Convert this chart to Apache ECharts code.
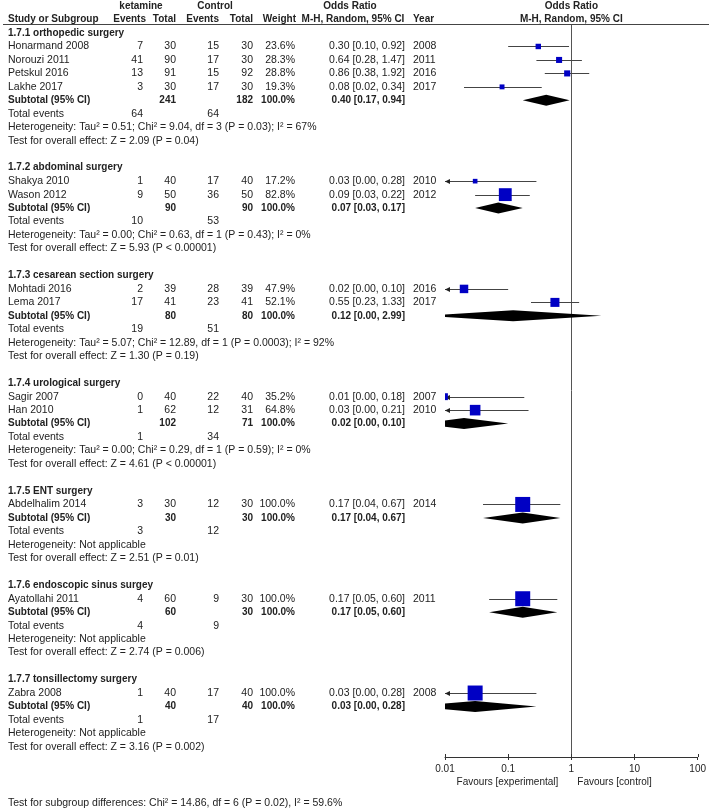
<!DOCTYPE html>
<html><head><meta charset="utf-8">
<script src="https://cdn.jsdelivr.net/npm/echarts@6/dist/echarts.min.js"></script>
<style>html,body{margin:0;padding:0;background:#fff}#c{width:709px;height:809px}</style>
</head><body><div id="c"></div>
<script>
// ---------- data ----------
const groupNames = ['1.7.1 orthopedic surgery','1.7.2 abdominal surgery','1.7.3 cesarean section surgery','1.7.4 urological surgery','1.7.5 ENT surgery','1.7.6 endoscopic sinus surgey','1.7.7 tonsillectomy surgery'];
const studyNames = ['Honarmand 2008','Norouzi 2011','Petskul 2016','Lakhe 2017','Shakya 2010','Wason 2012','Mohtadi 2016','Lema 2017','Sagir 2007','Han 2010','Abdelhalim 2014','Ayatollahi 2011','Zabra 2008'];
const studyGroup = [0,0,0,0,1,1,2,2,3,3,4,5,6];
const ketEvents = [7,41,13,3,1,9,2,17,0,1,3,4,1];
const ketTotals = [30,90,91,30,40,50,39,41,40,62,30,60,40];
const ctlEvents = [15,17,15,17,17,36,28,23,22,12,12,9,17];
const ctlTotals = [30,30,92,30,40,50,39,41,40,31,30,30,40];
const weights = [23.6,28.3,28.8,19.3,17.2,82.8,47.9,52.1,35.2,64.8,100,100,100];
const oddsRatio = [0.30,0.64,0.86,0.08,0.03,0.09,0.02,0.55,0.0098,0.03,0.17,0.17,0.03];
const ciLower = [0.10,0.28,0.38,0.02,0.003,0.03,0.004,0.23,0.0005,0.004,0.04,0.05,0.003];
const ciUpper = [0.92,1.47,1.92,0.34,0.28,0.22,0.10,1.33,0.18,0.21,0.67,0.60,0.28];
const years = [2008,2011,2016,2017,2010,2012,2016,2017,2007,2010,2014,2011,2008];
const subKetTotals = [241,90,80,102,30,60,40];
const subCtlTotals = [182,90,80,71,30,30,40];
const subOR = [0.40,0.07,0.12,0.02,0.17,0.17,0.03];
const subLower = [0.17,0.03,0.0048,0.004,0.04,0.05,0.003];
const subUpper = [0.94,0.17,2.99,0.10,0.67,0.60,0.28];
const subKetEvents = [64,10,19,1,3,4,1];
const subCtlEvents = [64,53,51,34,12,9,17];
const heterogeneity = [
 'Heterogeneity: Tau² = 0.51; Chi² = 9.04, df = 3 (P = 0.03); I² = 67%',
 'Heterogeneity: Tau² = 0.00; Chi² = 0.63, df = 1 (P = 0.43); I² = 0%',
 'Heterogeneity: Tau² = 5.07; Chi² = 12.89, df = 1 (P = 0.0003); I² = 92%',
 'Heterogeneity: Tau² = 0.00; Chi² = 0.29, df = 1 (P = 0.59); I² = 0%',
 'Heterogeneity: Not applicable',
 'Heterogeneity: Not applicable',
 'Heterogeneity: Not applicable'];
const overallEffect = [
 'Test for overall effect: Z = 2.09 (P = 0.04)',
 'Test for overall effect: Z = 5.93 (P < 0.00001)',
 'Test for overall effect: Z = 1.30 (P = 0.19)',
 'Test for overall effect: Z = 4.61 (P < 0.00001)',
 'Test for overall effect: Z = 2.51 (P = 0.01)',
 'Test for overall effect: Z = 2.74 (P = 0.006)',
 'Test for overall effect: Z = 3.16 (P = 0.002)'];
const subgroupTest = 'Test for subgroup differences: Chi² = 14.86, df = 6 (P = 0.02), I² = 59.6%';
const axisTicks = [0.01, 0.1, 1, 10, 100];
const favourLabels = ['Favours [experimental]', 'Favours [control]'];
const headerTop = ['ketamine', 'Control', 'Odds Ratio', 'Odds Ratio'];
const headerCols = ['Study or Subgroup', 'Events', 'Total', 'Events', 'Total', 'Weight', 'M-H, Random, 95% CI', 'Year', 'M-H, Random, 95% CI'];

// ---------- layout ----------
const rows = [];
rows.push({t:'h1', r:-2});
rows.push({t:'h2', r:-1});
let r = 0;
groupNames.forEach((g, gi) => {
  rows.push({t:'group', gi, r:r++});
  studyNames.forEach((s, si) => { if (studyGroup[si] === gi) rows.push({t:'study', si, r:r++}); });
  rows.push({t:'sub', gi, r:r++});
  rows.push({t:'events', gi, r:r++});
  rows.push({t:'het', gi, r:r++});
  rows.push({t:'test', gi, r:r++});
  r++;
});
rows.push({t:'favour', r:55.65});
rows.push({t:'footer', r:57.2});

const ROW_TOP = -0.668, ROW_BOTTOM = 53.75;
const FF = '"Liberation Sans", Arial, sans-serif';
const COL = '#222';
const REG = '10.5px ' + FF, BOLD = 'bold 10px ' + FF;
const X = {name:8, kEv:143, kTot:176, cEv:219, cTot:253, w:295, or:405, year:413};
const HX = {kEv:146, kTot:176, cEv:219, cTot:253, w:296, ciL:353};

function txt(x, y, text, align, font) {
  return {type:'text', x:x, y:y, style:{text:String(text), font:font || REG, fill:COL, align:align || 'left', verticalAlign:'middle'}};
}
const f2 = v => v.toFixed(2);
const ciText = (o, l, h) => f2(o) + ' [' + f2(l) + ', ' + f2(h) + ']';

function renderTable(params, api) {
  const row = rows[params.dataIndex];
  const y = api.coord([1, row.r])[1];
  const xOne = api.coord([1, row.r])[0];
  const c = [];
  if (row.t === 'h1') {
    c.push(txt(141, y, headerTop[0], 'center', BOLD));
    c.push(txt(215, y, headerTop[1], 'center', BOLD));
    c.push(txt(350, y, headerTop[2], 'center', BOLD));
    c.push(txt(xOne, y, headerTop[3], 'center', BOLD));
  } else if (row.t === 'h2') {
    c.push(txt(X.name, y, headerCols[0], 'left', BOLD));
    c.push(txt(HX.kEv, y, headerCols[1], 'right', BOLD));
    c.push(txt(HX.kTot, y, headerCols[2], 'right', BOLD));
    c.push(txt(HX.cEv, y, headerCols[3], 'right', BOLD));
    c.push(txt(HX.cTot, y, headerCols[4], 'right', BOLD));
    c.push(txt(HX.w, y, headerCols[5], 'right', BOLD));
    c.push(txt(HX.ciL, y, headerCols[6], 'center', BOLD));
    c.push(txt(X.year, y, headerCols[7], 'left', BOLD));
    c.push(txt(xOne, y, headerCols[8], 'center', BOLD));
    const ly = Math.round(api.coord([1, ROW_TOP])[1]) + 0.5;
    c.push({type:'line', shape:{x1:3, y1:ly, x2:709, y2:ly}, style:{stroke:'#444', lineWidth:1}});
  } else if (row.t === 'group') {
    c.push(txt(X.name, y, groupNames[row.gi], 'left', BOLD));
  } else if (row.t === 'study') {
    const i = row.si;
    c.push(txt(X.name, y, studyNames[i]));
    c.push(txt(X.kEv, y, ketEvents[i], 'right'));
    c.push(txt(X.kTot, y, ketTotals[i], 'right'));
    c.push(txt(X.cEv, y, ctlEvents[i], 'right'));
    c.push(txt(X.cTot, y, ctlTotals[i], 'right'));
    c.push(txt(X.w, y, weights[i].toFixed(1) + '%', 'right'));
    c.push(txt(X.or, y, ciText(oddsRatio[i], ciLower[i], ciUpper[i]), 'right'));
    c.push(txt(X.year, y, years[i]));
  } else if (row.t === 'sub') {
    const g = row.gi;
    c.push(txt(X.name, y, 'Subtotal (95% CI)', 'left', BOLD));
    c.push(txt(X.kTot, y, subKetTotals[g], 'right', BOLD));
    c.push(txt(X.cTot, y, subCtlTotals[g], 'right', BOLD));
    c.push(txt(X.w, y, '100.0%', 'right', BOLD));
    c.push(txt(X.or, y, ciText(subOR[g], subLower[g], subUpper[g]), 'right', BOLD));
  } else if (row.t === 'events') {
    const g = row.gi;
    c.push(txt(X.name, y, 'Total events'));
    c.push(txt(X.kEv, y, subKetEvents[g], 'right'));
    c.push(txt(X.cEv, y, subCtlEvents[g], 'right'));
  } else if (row.t === 'het') {
    c.push(txt(X.name, y, heterogeneity[row.gi]));
  } else if (row.t === 'test') {
    c.push(txt(X.name, y, overallEffect[row.gi]));
  } else if (row.t === 'favour') {
    c.push(txt(xOne - 13, y, favourLabels[0], 'right', '10px ' + FF));
    c.push(txt(xOne + 6, y, favourLabels[1], 'left', '10px ' + FF));
  } else if (row.t === 'footer') {
    c.push(txt(X.name, y, subgroupTest));
  }
  return {type:'group', children:c};
}

// marks
const markData = [];
rows.forEach(row => {
  if (row.t === 'study') markData.push([oddsRatio[row.si], row.r, ciLower[row.si], ciUpper[row.si], weights[row.si], 0]);
  if (row.t === 'sub') markData.push([subOR[row.gi], row.r, subLower[row.gi], subUpper[row.gi], 100, 1]);
});
const AXIS_MIN = axisTicks[0], AXIS_MAX = axisTicks[axisTicks.length - 1];

function renderMark(params, api) {
  const o = api.value(0), rr = api.value(1), lo = api.value(2), hi = api.value(3), w = api.value(4), kind = api.value(5);
  const pc = api.coord([o, rr]);
  const y = pc[1];
  const children = [];
  if (kind === 1) {
    const pl = api.coord([lo, rr])[0], ph = api.coord([hi, rr])[0];
    const h = 5.5;
    children.push({type:'polygon', shape:{points:[[pl, y], [pc[0], y - h], [ph, y], [pc[0], y + h]]}, style:{fill:'#000'}});
  } else {
    const lowClipped = lo < AXIS_MIN;
    const pl = api.coord([lowClipped ? AXIS_MIN : lo, rr])[0];
    const ph = api.coord([Math.min(hi, AXIS_MAX), rr])[0];
    const ly = Math.round(y) + 0.5;
    children.push({type:'line', shape:{x1:pl, y1:ly, x2:ph, y2:ly}, style:{stroke:'#444', lineWidth:1}});
    if (lowClipped) {
      children.push({type:'polygon', shape:{points:[[pl, ly], [pl + 5, ly - 2.5], [pl + 5, ly + 2.5]]}, style:{fill:'#222'}});
    }
    const s = 2.5 + 12.5 * w / 100;
    children.push({type:'rect', shape:{x:pc[0] - s / 2, y:y - s / 2, width:s, height:s}, style:{fill:'#0000C4'}});
  }
  return {type:'group', children};
}

function renderRefLine(params, api) {
  const a = api.coord([1, ROW_TOP]), b = api.coord([1, ROW_BOTTOM]);
  const x = Math.round(a[0]) + 0.5;
  return {type:'line', shape:{x1:x, y1:a[1], x2:x, y2:b[1]}, style:{stroke:'#555', lineWidth:1}};
}

// upward half of the crossing tick marks on the axis
function renderTickUp(params, api) {
  const p = api.coord([api.value(0), ROW_BOTTOM]);
  const x = Math.round(p[0]) + 0.5;
  return {type:'line', shape:{x1:x, y1:p[1] - 3, x2:x, y2:p[1]}, style:{stroke:'#333', lineWidth:1}};
}

const tickFmt = v => { const e = Math.round(Math.log10(v)); return e < 0 ? Math.pow(10, e).toFixed(-e) : String(Math.pow(10, e)); };

const chart = echarts.init(document.getElementById('c'));
chart.setOption({
  animation: false,
  grid: {left:445, right:10, top:24, bottom:52},
  xAxis: {type:'log', logBase:10, min:AXIS_MIN, max:AXIS_MAX, position:'bottom',
     axisLine:{onZero:false, lineStyle:{color:'#333', width:1}},
     axisTick:{length:3, lineStyle:{color:'#333'}},
     axisLabel:{formatter:tickFmt, fontSize:10, fontFamily:FF, color:COL, margin:7},
     splitLine:{show:false}},
  yAxis: {type:'value', inverse:true, min:ROW_TOP, max:ROW_BOTTOM, show:false},
  series: [
    {type:'custom', name:'ref', renderItem:renderRefLine, data:[[1, 0]], silent:true, clip:false},
    {type:'custom', name:'ticks', renderItem:renderTickUp, data:axisTicks.map(v => [v, ROW_BOTTOM]), silent:true, clip:false},
    {type:'custom', name:'marks', renderItem:renderMark, data:markData, clip:true, silent:true},
    {type:'custom', name:'table', renderItem:renderTable, data:rows.map(rw => [1, rw.r]), clip:false, silent:true}
  ]
});
</script>
</body></html>
